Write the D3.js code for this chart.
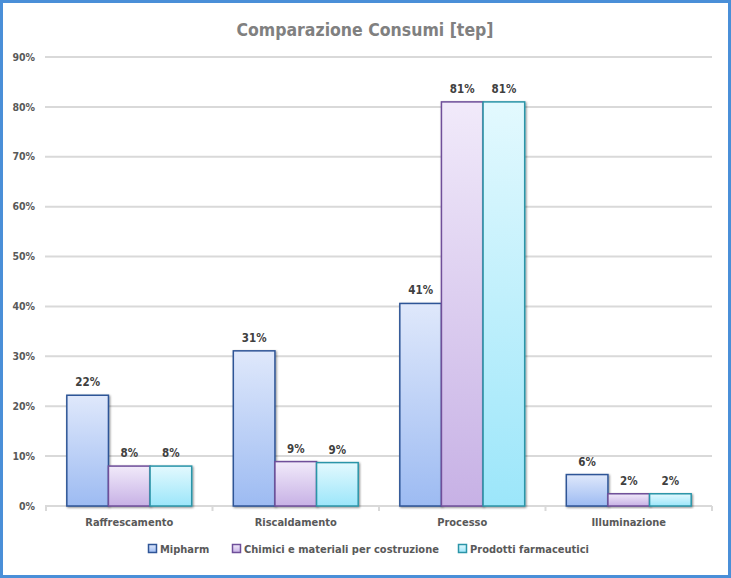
<!DOCTYPE html>
<html><head><meta charset="utf-8">
<script src="https://cdn.jsdelivr.net/npm/d3@7/dist/d3.min.js"></script>
<style>
body{margin:0;background:#fff;}
svg text{font-family:"Liberation Sans Narrow","DejaVu Sans Condensed",Arial,sans-serif;font-weight:bold;}
</style></head>
<body><svg id="c" width="731" height="578"></svg>
<script>
const categories = ["Raffrescamento","Riscaldamento","Processo","Illuminazione"];
const seriesNames = ["Mipharm","Chimici e materiali per costruzione","Prodotti farmaceutici"];
const mipharm = [22.2, 31.1, 40.6, 6.3];
const chimici = [8.0, 8.9, 81.0, 2.45];
const farmaceutici = [8.0, 8.7, 81.0, 2.45];
const yTicks = [0,10,20,30,40,50,60,70,80,90];
const title = "Comparazione Consumi [tep]";

const series = [mipharm, chimici, farmaceutici];
const styles = [
  {top:"#dfe8fb", bot:"#9dbbf2", stroke:"#2f5597"},
  {top:"#f1eafa", bot:"#c7b1e5", stroke:"#6f4f9a"},
  {top:"#e3f9fe", bot:"#9ce6fa", stroke:"#2b95a8"}
];

const svg = d3.select("#c");
const defs = svg.append("defs");
styles.forEach((s,i)=>{
  const g = defs.append("linearGradient").attr("id","g"+i).attr("x1",0).attr("y1",0).attr("x2",0).attr("y2",1);
  g.append("stop").attr("offset","0%").attr("stop-color",s.top);
  g.append("stop").attr("offset","100%").attr("stop-color",s.bot);
});
const f = defs.append("filter").attr("id","sh").attr("x","-20%").attr("y","-20%").attr("width","140%").attr("height","140%");
f.append("feDropShadow").attr("dx",1).attr("dy",1).attr("stdDeviation",0.8).attr("flood-color","#000").attr("flood-opacity",0.45);

// outer border
svg.append("rect").attr("x",1.5).attr("y",1.5).attr("width",728).attr("height",575)
  .attr("fill","#fff").attr("stroke","#4a8fd8").attr("stroke-width",3);

const x = d3.scaleBand().domain(categories).range([46,712]).padding(0);
const y = d3.scaleLinear().domain([0,90]).range([506,57]);

// gridlines
svg.append("g").selectAll("line").data(yTicks).join("line")
  .attr("x1",45).attr("x2",712).attr("y1",d=>y(d)).attr("y2",d=>y(d))
  .attr("stroke","#d9d9d9").attr("stroke-width",2);

// y axis labels
svg.append("g").selectAll("text").data(yTicks).join("text")
  .attr("x",35).attr("y",d=>y(d)).attr("dy","0.35em").attr("text-anchor","end")
  .attr("font-size",10.5).attr("fill","#595959").text(d=>d+"%");

// category tick marks
const bounds = categories.map(c=>x(c)).concat([x.range()[1]]);
svg.append("g").selectAll("line").data(bounds).join("line")
  .attr("x1",d=>d).attr("x2",d=>d).attr("y1",506).attr("y2",511)
  .attr("stroke","#d9d9d9").attr("stroke-width",2);

const bw = x.bandwidth()/4;
const off = x.bandwidth()/8;

series.forEach((vals,si)=>{
  const g = svg.append("g");
  g.selectAll("rect").data(vals).join("rect")
    .attr("x",(d,i)=>x(categories[i])+off+si*bw)
    .attr("y",d=>y(d))
    .attr("width",bw)
    .attr("height",d=>y(0)-y(d))
    .attr("fill","url(#g"+si+")")
    .attr("stroke",styles[si].stroke).attr("stroke-width",1.5)
    .attr("filter","url(#sh)");
});
series.forEach((vals,si)=>{
  svg.append("g").selectAll("text").data(vals).join("text")
    .attr("x",(d,i)=>x(categories[i])+off+si*bw+bw/2)
    .attr("y",d=>y(d)-9)
    .attr("text-anchor","middle").attr("font-size",11.5).attr("fill","#404040")
    .text(d=>Math.round(d)+"%");
});

// category labels
svg.append("g").selectAll("text").data(categories).join("text")
  .attr("x",d=>x(d)+x.bandwidth()/2).attr("y",522).attr("dy","0.35em")
  .attr("text-anchor","middle").attr("font-size",11).attr("fill","#595959").text(d=>d);

// title
svg.append("text").attr("x",365).attr("y",30).attr("dy","0.35em").attr("text-anchor","middle")
  .attr("font-size",17.5).attr("fill","#808080").text(title);

// legend
const legX = [148, 232, 458];
const lg = svg.append("g");
seriesNames.forEach((n,i)=>{
  lg.append("rect").attr("x",legX[i]+0.5).attr("y",544.5).attr("width",8).attr("height",8)
    .attr("fill","url(#g"+i+")").attr("stroke",styles[i].stroke).attr("stroke-width",1.5);
  lg.append("text").attr("x",legX[i]+12).attr("y",549).attr("dy","0.35em")
    .attr("font-size",11).attr("fill","#595959").text(n);
});
</script></body></html>
